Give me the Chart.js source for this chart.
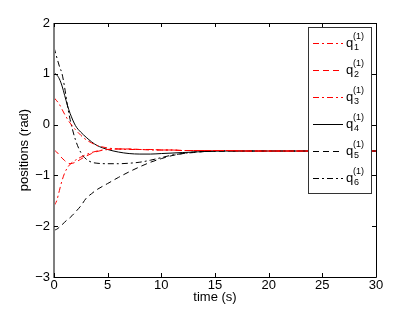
<!DOCTYPE html>
<html>
<head>
<meta charset="utf-8">
<script src="https://cdn.jsdelivr.net/npm/chart.js@4/dist/chart.umd.min.js"></script>
<style>
  html, body { margin: 0; padding: 0; background: #fff; }
  #wrap { width: 415px; height: 312px; }
</style>
</head>
<body>
<div id="wrap"><canvas id="positions"></canvas></div>
<script>
// sample times (s)
const time = [0, 0.25, 0.5, 0.75, 1, 1.25, 1.5, 2, 2.5, 3, 3.5, 4, 5, 6, 7, 8, 9, 10, 11, 12, 13, 14, 16, 18, 20, 25, 30];

// joint positions (rad)
const q1 = [0.53, 0.47, 0.40, 0.30, 0.20, 0.11, 0.03, -0.10, -0.21, -0.30, -0.36, -0.41, -0.46, -0.48, -0.49, -0.49, -0.50, -0.50, -0.50, -0.51, -0.51, -0.51, -0.51, -0.52, -0.52, -0.52, -0.52];
const q2 = [-0.50, -0.54, -0.60, -0.66, -0.71, -0.75, -0.77, -0.74, -0.68, -0.62, -0.57, -0.53, -0.49, -0.48, -0.48, -0.49, -0.49, -0.50, -0.50, -0.51, -0.51, -0.51, -0.51, -0.52, -0.52, -0.52, -0.52];
const q3 = [-1.60, -1.50, -1.30, -1.10, -0.95, -0.85, -0.78, -0.70, -0.64, -0.59, -0.55, -0.52, -0.49, -0.48, -0.48, -0.49, -0.49, -0.50, -0.50, -0.51, -0.51, -0.51, -0.51, -0.52, -0.52, -0.52, -0.52];
const q4 = [1.02, 0.98, 0.90, 0.76, 0.57, 0.38, 0.22, -0.02, -0.15, -0.25, -0.34, -0.41, -0.49, -0.54, -0.57, -0.58, -0.58, -0.57, -0.56, -0.55, -0.54, -0.53, -0.52, -0.52, -0.52, -0.52, -0.52];
const q5 = [-2.08, -2.06, -2.02, -1.97, -1.92, -1.87, -1.83, -1.72, -1.60, -1.45, -1.36, -1.28, -1.16, -1.04, -0.93, -0.83, -0.74, -0.67, -0.61, -0.57, -0.55, -0.53, -0.52, -0.52, -0.52, -0.52, -0.52];
const q6 = [1.52, 1.33, 1.15, 1.00, 0.72, 0.38, 0.10, -0.30, -0.55, -0.68, -0.74, -0.76, -0.77, -0.77, -0.76, -0.74, -0.70, -0.65, -0.60, -0.57, -0.54, -0.53, -0.52, -0.52, -0.52, -0.52, -0.52];

const xTicks = [0, 5, 10, 15, 20, 25, 30];
const yTicks = [-3, -2, -1, 0, 1, 2];
const legendIdx = ['1', '2', '3', '4', '5', '6'];

const FONT = "'Liberation Sans', Arial, sans-serif";
const styles = [
    { color: '#ff0000', dash: [6, 3, 2, 3] },
    { color: '#ff0000', dash: [6, 4] },
    { color: '#ff0000', dash: [6, 3, 2, 3] },
    { color: '#000000', dash: [] },
    { color: '#000000', dash: [6, 4] },
    { color: '#000000', dash: [6, 3, 2, 3] }
];

function series(vals) {
    return time.map((t, i) => ({ x: t, y: vals[i] }));
}

const datasets = [q1, q2, q3, q4, q5, q6].map((vals, i) => ({
    label: legendIdx[i],
    data: series(vals),
    borderColor: styles[i].color,
    borderDash: styles[i].dash,
    borderWidth: 1,
    pointRadius: 0,
    fill: false,
    cubicInterpolationMode: 'monotone'
}));

// Matlab-style box, inward ticks and the legend
const matlabFrame = {
    id: 'matlabFrame',
    afterDraw(chart) {
        const { ctx, chartArea: a, scales } = chart;
        const xs = scales.x, ys = scales.y;
        const L = Math.round(a.left), R = Math.round(a.right);
        const T = Math.round(a.top), B = Math.round(a.bottom);
        ctx.save();
        ctx.lineWidth = 1;
        ctx.strokeStyle = '#000';
        ctx.beginPath();
        ctx.moveTo(L, T + 0.5); ctx.lineTo(R + 0.5, T + 0.5);
        ctx.lineTo(R + 0.5, B + 0.5); ctx.lineTo(L, B + 0.5);
        ctx.stroke();
        ctx.strokeStyle = '#7f7f7f';
        ctx.lineWidth = 2;
        ctx.beginPath();
        ctx.moveTo(L, T); ctx.lineTo(L, B + 1);
        ctx.stroke();
        ctx.lineWidth = 1;
        ctx.strokeStyle = '#000';
        ctx.beginPath();
        xTicks.forEach(v => {
            const px = Math.round(xs.getPixelForValue(v)) + 0.5;
            ctx.moveTo(px, B); ctx.lineTo(px, B - 4);
            ctx.moveTo(px, T); ctx.lineTo(px, T + 4);
        });
        yTicks.forEach(v => {
            const py = Math.round(ys.getPixelForValue(v)) + 0.5;
            ctx.moveTo(L, py); ctx.lineTo(L + 4, py);
            ctx.moveTo(R, py); ctx.lineTo(R - 4, py);
        });
        ctx.stroke();

        // legend
        const lx = 308, ly = 27, lw = 63, lh = 166;
        ctx.fillStyle = '#fff';
        ctx.fillRect(lx, ly, lw, lh);
        ctx.strokeStyle = '#333';
        ctx.strokeRect(lx + 0.5, ly + 0.5, lw, lh);
        chart.data.datasets.forEach((d, i) => {
            const y = 43 + i * 27;
            ctx.beginPath();
            ctx.strokeStyle = styles[i].color;
            ctx.setLineDash(styles[i].dash);
            ctx.moveTo(313, y + 0.5);
            ctx.lineTo(343, y + 0.5);
            ctx.stroke();
            ctx.setLineDash([]);
            ctx.fillStyle = '#000';
            ctx.textBaseline = 'alphabetic';
            ctx.textAlign = 'left';
            ctx.font = '13px ' + FONT;
            ctx.fillText('q', 346, y + 4);
            ctx.font = '9px ' + FONT;
            ctx.fillText('(1)', 353, y - 4);
            ctx.fillText(d.label, 354, y + 7);
        });
        ctx.restore();
    }
};

const ctx = document.getElementById('positions').getContext('2d');
new Chart(ctx, {
    type: 'line',
    data: { datasets },
    options: {
        responsive: true,
        maintainAspectRatio: false,
        animation: false,
        layout: { padding: { top: 23, right: 39, left: 0, bottom: 0 } },
        plugins: {
            legend: { display: false },
            tooltip: { enabled: false }
        },
        scales: {
            x: {
                type: 'linear',
                min: 0,
                max: 30,
                afterBuildTicks: s => { s.ticks = xTicks.map(v => ({ value: v })); },
                afterFit: s => { s.height = 35; },
                grid: { display: false, drawTicks: false },
                border: { display: false },
                ticks: {
                    color: '#000',
                    padding: 1,
                    maxRotation: 0,
                    font: { family: FONT, size: 13 }
                },
                title: {
                    display: true,
                    text: 'time (s)',
                    color: '#000',
                    padding: { top: 0, bottom: 7 },
                    font: { family: FONT, size: 13 }
                }
            },
            y: {
                min: -3,
                max: 2,
                afterBuildTicks: s => { s.ticks = yTicks.map(v => ({ value: v })); },
                afterFit: s => { s.width = 54; },
                grid: { display: false, drawTicks: false },
                border: { display: false },
                ticks: {
                    color: '#000',
                    padding: 4,
                    font: { family: FONT, size: 13 },
                    callback: v => String(v).replace('-', '\u2212')
                },
                title: {
                    display: true,
                    text: 'positions (rad)',
                    color: '#000',
                    padding: { top: 17, bottom: 0 },
                    font: { family: FONT, size: 13 }
                }
            }
        }
    },
    plugins: [matlabFrame]
});
</script>
</body>
</html>
